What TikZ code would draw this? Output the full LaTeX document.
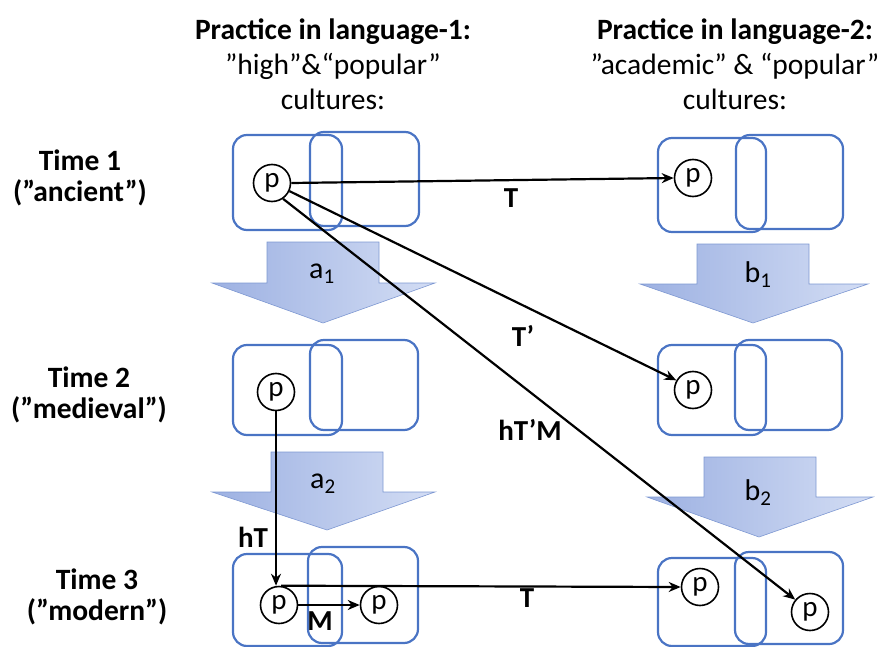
\documentclass[tikz,border=0pt]{standalone}
\usepackage{fontspec}
\setmainfont{Carlito}
\usetikzlibrary{arrows.meta}
\definecolor{boxblue}{HTML}{4A74C4}
\definecolor{arrL}{HTML}{9DB1E2}
\definecolor{arrR}{HTML}{D3DDF4}
\definecolor{arrB}{HTML}{7E98D2}
\tikzset{
  panel/.style={draw=boxblue, line width=2.2pt, rounded corners=14pt},
  blockarrow/.style={left color=arrL, right color=arrR, draw=arrB, line width=0.6pt},
  pnode/.style={circle, draw=black, line width=1.6pt, fill=white, minimum size=37pt, inner sep=0pt, font=\fontsize{29}{29}\selectfont},
  conn/.style={line width=2.2pt, -{Stealth[length=12pt,width=10pt]}},
  lbl/.style={font=\fontsize{29}{29}\selectfont\bfseries},
  head/.style={font=\fontsize{29.5}{35}\selectfont, align=center},
  timelbl/.style={font=\fontsize{29.5}{31}\selectfont\bfseries, align=center},
  sublbl/.style={font=\fontsize{30}{30}\selectfont}
}
\begin{document}
\begin{tikzpicture}[x=1pt,y=-1pt]
\useasboundingbox (0,0) rectangle (883,647);

% headers
\node[head] (h1) at (333,64) {\textbf{Practice in language-1:}\\”high”\&“popular”\\cultures:};
\node[head] (h2) at (735,64) {\textbf{Practice in language-2:}\\”academic” \& “popular”\\cultures:};

% time labels
\node[timelbl] (t1) at (80,178) {Time 1\\(”ancient”)};
\node[timelbl] (t2) at (89,395) {Time 2\\(”medieval”)};
\node[timelbl] (t3) at (97,597) {Time 3\\(”modern”)};

% panels, time 1
\draw[panel] (233,135) rectangle (342,230);
\draw[panel] (310,132) rectangle (419,226);
\draw[panel] (658,138) rectangle (766,232);
\draw[panel] (736,135) rectangle (843,229);
% panels, time 2
\draw[panel] (233,345) rectangle (342,435);
\draw[panel] (310,340) rectangle (418,430);
\draw[panel] (658,345) rectangle (766,435);
\draw[panel] (735,340) rectangle (842,430);
% panels, time 3
\draw[panel] (233,554) rectangle (342,646);
\draw[panel] (308,547) rectangle (418,643);
\draw[panel] (658,558) rectangle (766,646);
\draw[panel] (735,552) rectangle (843,644);

% block arrows
\path[blockarrow] (267,242) -- (379,242) -- (379,283) -- (435,283) -- (323,323) -- (212,283) -- (267,283) -- cycle;
\node[sublbl] (a1) at (322,274) {a\textsubscript{1}};
\path[blockarrow] (271,452) -- (383,452) -- (383,492) -- (435,492) -- (327,530) -- (212,492) -- (271,492) -- cycle;
\node[sublbl] (a2) at (323,484) {a\textsubscript{2}};
\path[blockarrow] (697,244) -- (809,244) -- (809,284) -- (868,284) -- (753,323) -- (640,284) -- (697,284) -- cycle;
\node[sublbl] (b1) at (758,275) {b\textsubscript{1}};
\path[blockarrow] (704,457) -- (816,457) -- (816,497) -- (873,497) -- (759,537) -- (647,497) -- (704,497) -- cycle;
\node[sublbl] (b2) at (758,493) {b\textsubscript{2}};

% p nodes
\node[pnode] (p11) at (272,183) {p};
\node[pnode] (q11) at (693,178) {p};
\node[pnode] (p21) at (276,392) {p};
\node[pnode] (q21) at (693,390) {p};
\node[pnode] (p31) at (279,605) {p};
\node[pnode] (p32) at (379,605) {p};
\node[pnode] (q31) at (700,587) {p};
\node[pnode] (q32) at (810,612) {p};

% connectors
\draw[conn] (p11.east) -- (q11.west);
\node[lbl] (lT1) at (511,198) {T};
\draw[conn] (p11.-25) -- (q21.150);
\node[lbl] (lTp) at (523,336) {T’};
\draw[conn] (p11.-55) -- (q32.140);
\node[lbl] (lhTM) at (530,430) {hT’M};
\draw[conn] (p21.south) -- (p21.south |- p31.north);
\node[lbl] (lhT) at (253,537) {hT};
\draw[conn] (p31.east) -- (p32.west);
\node[lbl] (lM) at (320,621) {M};
\draw[conn] ([xshift=2pt]p31.north) -- (q31.west);
\node[lbl] (lT3) at (527,598) {T};
\end{tikzpicture}
\end{document}
